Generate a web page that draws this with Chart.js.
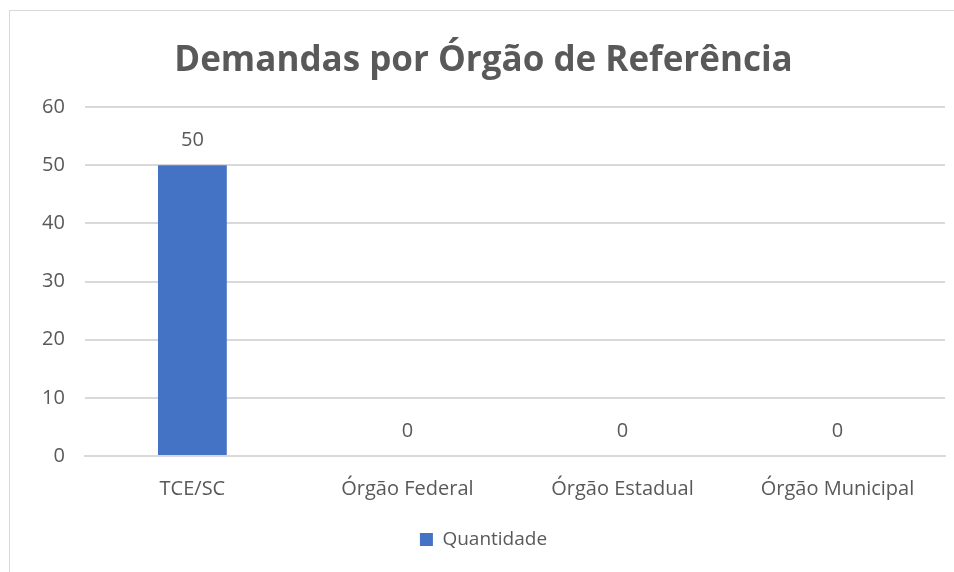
<!DOCTYPE html>
<html>
<head>
<meta charset="utf-8">
<script src="https://cdn.jsdelivr.net/npm/chart.js@4"></script>
<style>
  html, body { margin: 0; padding: 0; background: #fff; }
  #wrap { position: absolute; left: 9px; top: 10px; width: 960px; height: 580px; border: 1px solid #d9d9d9; box-sizing: border-box; }
  #box { position: absolute; left: 0; top: 0; width: 954px; height: 572px; }
</style>
</head>
<body>
<div id="wrap"></div>
<div id="box"><canvas id="myChart"></canvas></div>
<script>
const categories = ['TCE/SC', 'Órgão Federal', 'Órgão Estadual', 'Órgão Municipal'];
const quantidade = [50, 0, 0, 0];
const yTicks = [0, 10, 20, 30, 40, 50, 60];

const textGray = '#595959';

// data labels above each bar
const barLabels = {
  id: 'barLabels',
  afterDatasetsDraw(chart) {
    const c = chart.ctx;
    const meta = chart.getDatasetMeta(0);
    c.save();
    c.font = '20px "Open Sans"';
    c.fillStyle = textGray;
    c.textAlign = 'center';
    c.textBaseline = 'middle';
    meta.data.forEach((bar, i) => {
      c.fillText(String(quantidade[i]), bar.x, bar.y - 25);
    });
    c.restore();
  }
};

const ctx = document.getElementById('myChart').getContext('2d');
const myChart = new Chart(ctx, {
  type: 'bar',
  data: {
    labels: categories,
    datasets: [{
      label: 'Quantidade',
      data: quantidade,
      backgroundColor: '#4472C4',
      barPercentage: 0.64,
      categoryPercentage: 0.5
    }]
  },
  options: {
    responsive: true,
    maintainAspectRatio: false,
    animation: false,
    layout: { padding: { left: 22, right: 9, top: 40, bottom: 13 } },
    plugins: {
      title: {
        display: true,
        text: 'Demandas por Órgão de Referência',
        color: textGray,
        font: { family: '"Open Sans"', size: 35, weight: 'bold' },
        padding: { top: 0, bottom: 25 }
      },
      legend: {
        position: 'bottom',
        labels: {
          color: textGray,
          font: { family: '"Open Sans"', size: 19 },
          boxWidth: 13,
          boxHeight: 13,
          padding: 16
        }
      },
      tooltip: { enabled: false }
    },
    scales: {
      x: {
        grid: { display: false },
        border: { color: '#d9d9d9', width: 2 },
        ticks: { color: textGray, font: { family: '"Open Sans"', size: 20 }, padding: 13 }
      },
      y: {
        min: 0,
        max: 60,
        afterBuildTicks(axis) { axis.ticks = yTicks.map(v => ({ value: v })); },
        grid: { color: '#d9d9d9', lineWidth: 2, drawTicks: false },
        border: { display: false },
        ticks: { color: textGray, font: { family: '"Open Sans"', size: 20 }, padding: 20 }
      }
    }
  },
  plugins: [barLabels]
});
</script>
</body>
</html>
